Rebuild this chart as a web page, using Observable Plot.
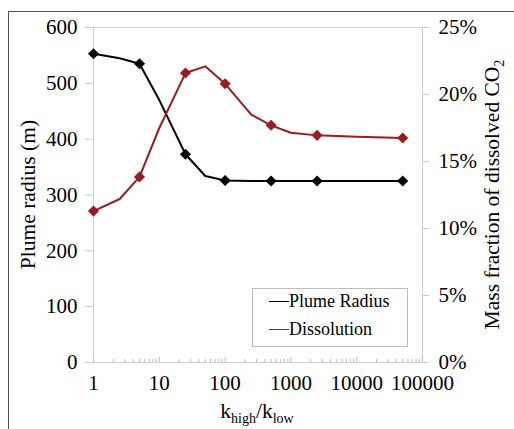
<!DOCTYPE html>
<html><head><meta charset="utf-8">
<script src="https://cdn.jsdelivr.net/npm/d3@7"></script>
<script src="https://cdn.jsdelivr.net/npm/@observablehq/plot@0.6"></script>
<style>
body{margin:0;background:#fff;}
#wrap{position:relative;width:514px;height:429px;overflow:hidden;font-family:"Liberation Serif","Times New Roman",Times,"DejaVu Serif",serif;background:#fff;}
#wrap svg{position:absolute;left:0;top:0;}
#border{position:absolute;left:8px;top:11px;width:700px;height:700px;border-left:1.5px solid #555;border-top:1.5px solid #555;}
#legend{position:absolute;left:252px;top:288px;width:154px;height:57px;border:1px solid #bdbdbd;background:#fff;font-size:18px;color:#000;}
.item{position:absolute;left:16px;display:flex;align-items:center;height:22px;white-space:nowrap;}
.swatch{width:20px;height:0;border-top:1.6px solid;}
</style></head>
<body>
<div id="wrap"><div id="border"></div></div>
<script>
// data
const ratio = [1, 2.5, 5, 10, 25, 50, 100, 250, 500, 1000, 2500, 10000, 50000];
const plumeRadius = [553, 545, 535, 470, 373, 334, 326, 325, 325, 325, 325, 325, 325];
const dissolution = [11.3, 12.2, 13.85, 17.5, 21.6, 22.1, 20.8, 18.5, 17.7, 17.15, 16.95, 16.85, 16.75];
const markerRatios = [1, 5, 25, 100, 500, 2500, 50000];
const leftTicks = [0, 100, 200, 300, 400, 500, 600];
const rightTicks = [0, 5, 10, 15, 20, 25];
const xTicks = [1, 10, 100, 1000, 10000, 100000];
const seriesNames = ["Plume Radius", "Dissolution"];
const seriesColors = ["#000000", "#9a1c20"];

const FONT = '"Liberation Serif","Times New Roman",Times,"DejaVu Serif",serif';
const rightMax = 25, leftMax = 600;
const toLeft = v => v * leftMax / rightMax;

const rows = ratio.map((r, i) => ({r, plume: plumeRadius[i], diss: toLeft(dissolution[i]), mark: markerRatios.includes(r)}));
const marked = rows.filter(d => d.mark);
const minor = [];
for (const d of xTicks.slice(0, -1)) for (let m = 2; m <= 9; m++) minor.push(d * m);

const chart = Plot.plot({
  width: 514, height: 429,
  marginLeft: 93, marginRight: 92, marginTop: 27, marginBottom: 67,
  style: {fontFamily: FONT, fontSize: "21px", color: "#000", background: "transparent"},
  x: {type: "log", domain: [1, 100000]},
  y: {domain: [0, leftMax]},
  marks: [
    Plot.frame({stroke: "#cfcfcf"}),
    Plot.ruleX(minor, {y1: 0, y2: 5.5, stroke: "#bbb"}),
    Plot.ruleX(xTicks, {y1: 0, y2: 9, stroke: "#bbb"}),
    Plot.axisY({anchor: "left", ticks: leftTicks, tickSize: 8, tickPadding: 8, stroke: "#c8c8c8", fill: "#000", label: null}),
    Plot.axisY({anchor: "right", ticks: rightTicks.map(toLeft), tickFormat: d => Math.round(d * rightMax / leftMax) + "%", tickSize: 6, tickPadding: 10, stroke: "#c8c8c8", fill: "#000", label: null}),
    Plot.axisX({ticks: xTicks, tickFormat: d => String(d), tickSize: 0, tickPadding: 13, fill: "#000", label: null}),
    Plot.lineY(rows, {x: "r", y: "plume", stroke: seriesColors[0], strokeWidth: 2}),
    Plot.lineY(rows, {x: "r", y: "diss", stroke: seriesColors[1], strokeWidth: 2}),
    Plot.dot(marked, {x: "r", y: "plume", symbol: "diamond2", r: 5, fill: seriesColors[0], stroke: "none"}),
    Plot.dot(marked, {x: "r", y: "diss", symbol: "diamond2", r: 5, fill: seriesColors[1], stroke: "none"})
  ]
});

const svg = d3.select(chart);
// left title
svg.append("text").attr("transform", "translate(35,194.5) rotate(-90)").attr("text-anchor", "middle")
  .style("font-family", FONT).attr("font-size", 21.5).attr("fill", "#000").text("Plume radius (m)");
// right title
const rt = svg.append("text").attr("transform", "translate(499,194.5) rotate(-90)").attr("text-anchor", "middle")
  .style("font-family", FONT).attr("font-size", 21.5).attr("fill", "#000");
rt.append("tspan").text("Mass fraction of dissolved CO");
rt.append("tspan").attr("font-size", 14).attr("dy", 5).text("2");
// x title
const xt = svg.append("text").attr("x", 257).attr("y", 418).attr("text-anchor", "middle")
  .style("font-family", FONT).attr("font-size", 21.5).attr("fill", "#000");
xt.append("tspan").text("k");
xt.append("tspan").attr("font-size", 14).attr("dy", 5).text("high");
xt.append("tspan").attr("dy", -5).text("/k");
xt.append("tspan").attr("font-size", 14).attr("dy", 5).text("low");

const wrap = document.getElementById("wrap");
wrap.appendChild(chart);
// legend
const leg = document.createElement("div");
leg.id = "legend";
seriesNames.forEach((name, i) => {
  const it = document.createElement("div");
  it.className = "item";
  it.style.top = (1 + i * 28) + "px";
  const sw = document.createElement("span");
  sw.className = "swatch";
  sw.style.borderTopColor = seriesColors[i];
  const tx = document.createElement("span");
  tx.textContent = name;
  it.appendChild(sw); it.appendChild(tx);
  leg.appendChild(it);
});
wrap.appendChild(leg);
</script>
</body></html>
